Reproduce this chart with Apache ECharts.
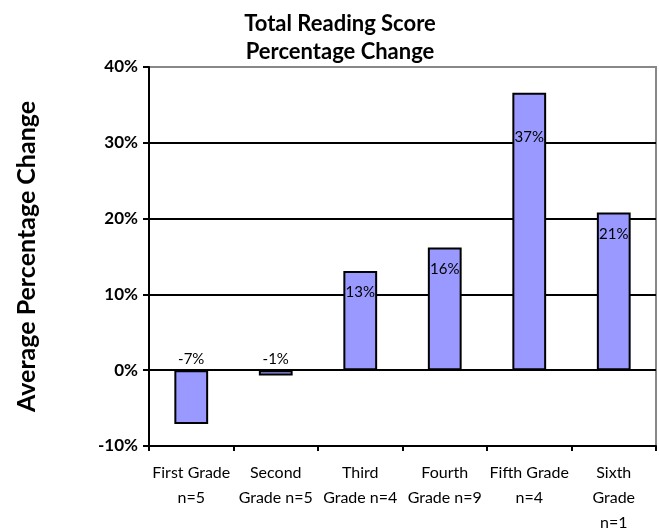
<!DOCTYPE html>
<html>
<head>
<meta charset="utf-8">
<script src="https://cdn.jsdelivr.net/npm/echarts@6/dist/echarts.min.js"></script>
<style>
  html, body { margin: 0; padding: 0; background: #fff; }
  #chart { width: 659px; height: 529px; }
</style>
</head>
<body>
<div id="chart"></div>
<script>
// data
const grades = [
  'First Grade\nn=5',
  'Second\nGrade n=5',
  'Third\nGrade n=4',
  'Fourth\nGrade n=9',
  'Fifth Grade\nn=4',
  'Sixth\nGrade\nn=1'
]
const changes = [-7.1, -0.7, 13.1, 16.2, 36.6, 20.8]
const yTicks = [-10, 0, 10, 20, 30, 40]

const font = 'Lato, "DejaVu Sans", sans-serif'
const myChart = echarts.init(document.getElementById('chart'))

const barData = changes.map((v, i) => {
  if (v < 0) {
    return { value: v, label: { position: 'top', distance: 4 } }
  }
  // the 37% label sits lower in the original
  return { value: v, label: { position: 'insideTop', distance: i === 4 ? 37 : 14 } }
})

const option = {
  animation: false,
  backgroundColor: '#fff',
  title: {
    text: 'Total Reading Score\nPercentage Change',
    left: 335,
    top: 5,
    textAlign: 'center',
    textStyle: {
      fontFamily: font,
      fontWeight: 'bold',
      fontSize: 22,
      lineHeight: 28,
      color: '#000'
    }
  },
  grid: {
    left: 149,
    right: 3,
    top: 67,
    bottom: 83,
    outerBoundsMode: 'none',
    containLabel: false,
    show: true,
    borderColor: '#888',
    borderWidth: 2
  },
  xAxis: [
    {
      type: 'category',
      data: grades,
      position: 'bottom',
      axisLine: { show: false },
      axisTick: { show: false },
      axisLabel: {
        interval: 0,
        margin: 14,
        fontFamily: font,
        fontSize: 16,
        lineHeight: 25,
        color: '#000'
      }
    },
    {
      type: 'category',
      data: grades,
      position: 'bottom',
      axisLine: { onZero: true, lineStyle: { color: '#000', width: 2 } },
      axisTick: { show: true, inside: false, length: 5, lineStyle: { color: '#000', width: 2 } },
      axisLabel: { show: false }
    }
  ],
  yAxis: {
    type: 'value',
    min: yTicks[0],
    max: yTicks[yTicks.length - 1],
    interval: 10,
    name: 'Average Percentage Change',
    nameLocation: 'middle',
    nameGap: 110,
    nameTextStyle: {
      fontFamily: font,
      fontWeight: 'bold',
      fontSize: 25,
      color: '#000'
    },
    axisLine: { show: true, lineStyle: { color: '#000', width: 2 } },
    axisTick: { show: true, length: 6, lineStyle: { color: '#000', width: 2 } },
    axisLabel: {
      formatter: '{value}%',
      margin: 11,
      fontFamily: font,
      fontWeight: 'bold',
      fontSize: 17,
      color: '#000'
    },
    splitLine: {
      show: true,
      lineStyle: {
        color: ['#888', '#000', '#000', '#000', '#000', '#888'],
        width: 2
      }
    }
  },
  series: [
    {
      type: 'bar',
      xAxisIndex: 1,
      data: barData,
      barWidth: '40%',
      itemStyle: {
        color: '#9999ff',
        borderColor: '#000',
        borderWidth: 2
      },
      label: {
        show: true,
        formatter: (p) => Math.round(p.value) + '%',
        fontFamily: font,
        fontSize: 15,
        color: '#000'
      }
    }
  ]
}

myChart.setOption(option)
</script>
</body>
</html>
